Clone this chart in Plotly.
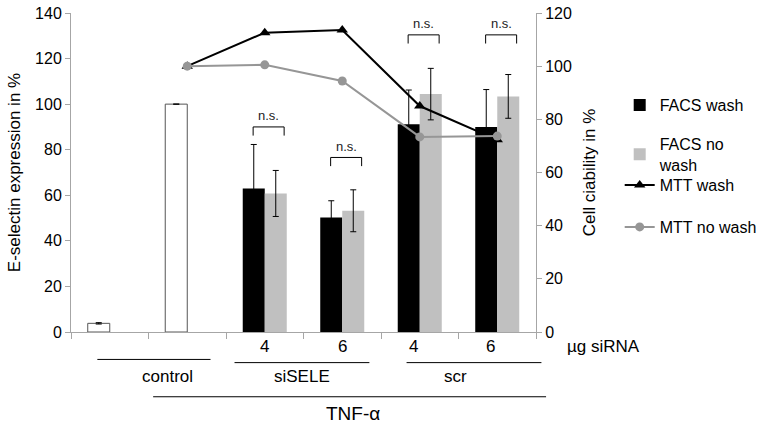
import plotly.graph_objects as go

# ---- data ----
categories = ["control", "TNF", "siSELE4", "siSELE6", "scr4", "scr6"]
dose_labels = ["", "", "4", "6", "4", "6"]

white_vals = [3.8, 100, None, None, None, None]
white_err = [0.3, 0, 0, 0, 0, 0]
facs_wash = [None, None, 63.0, 50.3, 91.2, 90.0]
facs_wash_err = [0, 0, 19.3, 7.3, 15.0, 16.4]
facs_nowash = [None, None, 60.8, 53.2, 104.4, 103.4]
facs_nowash_err = [0, 0, 10.1, 9.2, 11.3, 9.6]

mtt_wash = [None, 100.0, 112.6, 113.6, 85.0, 72.3]
mtt_nowash = [None, 100.0, 100.5, 94.4, 73.4, 73.7]

ns_cats = [2, 3, 4, 5]
ns_levels = [90.0, 76.6, 130.4, 130.4]

group_labels = ["control", "siSELE", "scr"]
group_centers = [0.39, 2.48, 4.63]
group_spans = [(-0.16, 1.30), (1.61, 3.35), (3.83, 5.57)]
tnf_span = (0.56, 5.63)

FONT = "Liberation Sans, Arial, sans-serif"
AX = "#a6a6a6"
x = list(range(len(categories)))

fig = go.Figure()

fig.add_trace(go.Bar(
    x=x, y=white_vals, offsetgroup="1", showlegend=False,
    marker=dict(color="white", line=dict(color="#555555", width=1)),
    error_y=dict(type="data", array=white_err, color="black", thickness=1, width=3),
))
fig.add_trace(go.Bar(
    x=x, y=facs_wash, offsetgroup="1", name="FACS wash", legend="legend",
    marker=dict(color="black", line=dict(width=0)),
    error_y=dict(type="data", array=facs_wash_err, color="black", thickness=1, width=3),
))
fig.add_trace(go.Bar(
    x=x, y=facs_nowash, offsetgroup="2", name="FACS no<br>wash", legend="legend2",
    marker=dict(color="#c0c0c0", line=dict(width=0)),
    error_y=dict(type="data", array=facs_nowash_err, color="black", thickness=1, width=3),
))
fig.add_trace(go.Scatter(
    x=x, y=mtt_wash, yaxis="y2", name="MTT wash", legend="legend3", mode="lines+markers",
    line=dict(color="black", width=2),
    marker=dict(symbol="triangle-up", size=10, color="black"),
))
fig.add_trace(go.Scatter(
    x=x, y=mtt_nowash, yaxis="y2", name="MTT no wash", legend="legend4", mode="lines+markers",
    line=dict(color="#969696", width=2),
    marker=dict(symbol="circle", size=9, color="#969696"),
))

shapes = []
annotations = []
# n.s. brackets
for c, lv in zip(ns_cats, ns_levels):
    x0, x1 = c - 0.15, c + 0.25
    shapes.append(dict(type="path", xref="x", yref="y",
                       path=f"M {x0} {lv-3.8} L {x0} {lv} L {x1} {lv} L {x1} {lv-3.8}",
                       line=dict(color="black", width=1)))
    annotations.append(dict(x=(x0 + x1) / 2, y=lv + 0.8, xref="x", yref="y",
                            text="n.s.", showarrow=False, yanchor="bottom",
                            font=dict(size=13, color="#222")))

n = len(categories)
def px(c):
    return (c + 0.5) / n

for i, lab in enumerate(dose_labels):
    if lab:
        annotations.append(dict(x=px(i), y=-0.047, xref="paper", yref="paper", yanchor="middle",
                                text=lab, showarrow=False, font=dict(size=17, color="black")))
annotations.append(dict(x=1.063, y=-0.047, xref="paper", yref="paper", xanchor="left",
                        yanchor="middle",
                        text="µg siRNA", showarrow=False, font=dict(size=17, color="black")))
for lab, cx, (a, b), ly in zip(group_labels, group_centers, group_spans, [-0.086, -0.096, -0.096]):
    shapes.append(dict(type="line", xref="paper", yref="paper", x0=px(a), x1=px(b),
                       y0=ly, y1=ly, line=dict(color="black", width=1)))
    annotations.append(dict(x=px(cx), y=-0.141, xref="paper", yref="paper", yanchor="middle",
                            text=lab, showarrow=False, font=dict(size=17, color="black")))
shapes.append(dict(type="line", xref="paper", yref="paper", x0=px(tnf_span[0]), x1=px(tnf_span[1]),
                   y0=-0.203, y1=-0.203, line=dict(color="black", width=1)))
annotations.append(dict(x=px(3.14), y=-0.254, xref="paper", yref="paper", yanchor="middle",
                        text="TNF-α", showarrow=False, font=dict(size=19, color="black")))

def leg(yc):
    return dict(x=1.18, y=yc, xanchor="left", yanchor="middle", font=dict(size=16),
                bgcolor="rgba(0,0,0,0)", itemwidth=30)

fig.update_layout(
    width=761, height=427,
    margin=dict(l=71, r=225, t=13, b=95, autoexpand=False),
    paper_bgcolor="white", plot_bgcolor="white",
    font=dict(family=FONT, size=16, color="black"),
    barmode="group", bargap=0.432, bargroupgap=0,
    shapes=shapes, annotations=annotations,
    xaxis=dict(range=[-0.5, 5.5], tickvals=[i - 0.5 for i in range(n + 1)],
               ticktext=[""] * (n + 1), ticks="outside", ticklen=6, tickcolor=AX,
               showline=True, linecolor=AX, linewidth=1, showgrid=False, zeroline=False),
    yaxis=dict(range=[0, 140], dtick=20, ticks="outside", ticklen=5, tickcolor=AX,
               showline=True, linecolor=AX, showgrid=False, zeroline=False,
               tickfont=dict(size=16), ticklabeloverflow="allow",
               title=dict(text="E-selectin expression in %", font=dict(size=17), standoff=10)),
    yaxis2=dict(range=[0, 120], dtick=20, overlaying="y", side="right", ticks="outside",
                ticklen=5, tickcolor=AX, showline=True, linecolor=AX,
                showgrid=False, zeroline=False, tickfont=dict(size=16), ticklabeloverflow="allow",
                title=dict(text="Cell ciability in %", font=dict(size=17), standoff=12)),
    legend=leg(0.7116),
    legend2=leg(0.5564),
    legend3=leg(0.4608),
    legend4=leg(0.3292),
)

# remove the default 8px page margin so the figure fills the window exactly
fig.write_html("out.html", config={"displayModeBar": False},
               post_script="document.body.style.margin='0';document.body.style.overflow='hidden';")
